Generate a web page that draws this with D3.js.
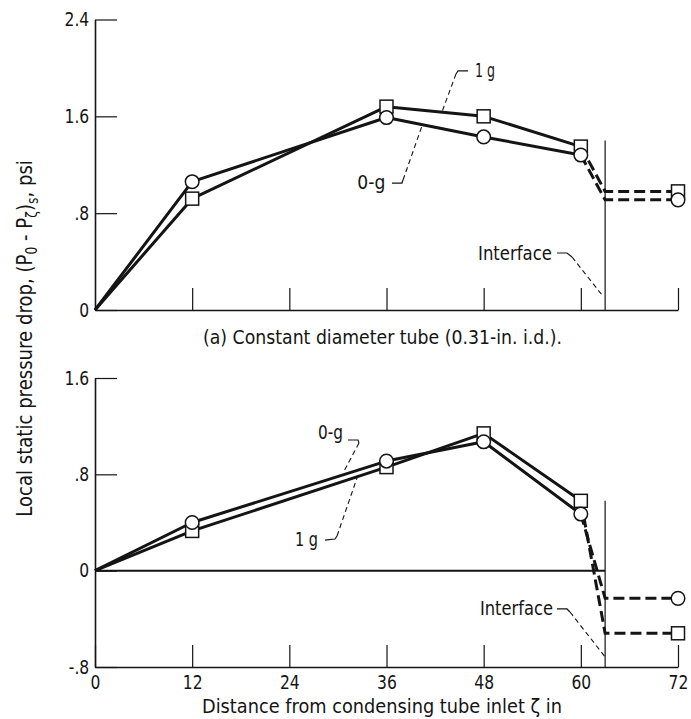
<!DOCTYPE html>
<html><head><meta charset="utf-8">
<script src="https://cdn.jsdelivr.net/npm/d3@7"></script>
<style>body{margin:0;background:#fff}svg{display:block}</style>
</head><body><svg id="c" width="691" height="719"></svg>
<script>
// ---------- data ----------
const stations = [0, 12, 36, 48, 60];
const dashStations = [60, 63, 72];
const topZeroG = [0, 1.06, 1.59, 1.43, 1.28];
const topOneG = [0, 0.92, 1.68, 1.60, 1.35];
const topZeroGDash = [1.28, 0.91, 0.91];
const topOneGDash = [1.35, 0.98, 0.98];
const botZeroG = [0, 0.40, 0.91, 1.07, 0.47];
const botOneG = [0, 0.33, 0.86, 1.14, 0.58];
const botZeroGDash = [0.47, -0.23, -0.23];
const botOneGDash = [0.58, -0.52, -0.52];
const interfaceX = 63;
const topInterfaceTop = 1.40;
const botInterfaceTop = 0.58;
const xTicks = [0, 12, 24, 36, 48, 60, 72];
const xTickLabels = ["0", "12", "24", "36", "48", "60", "72"];
const yTicksTop = [0, 0.8, 1.6, 2.4];
const yTickLabelsTop = ["0", ".8", "1.6", "2.4"];
const yTicksBot = [-0.8, 0, 0.8, 1.6];
const yTickLabelsBot = ["-.8", "0", ".8", "1.6"];

// ---------- setup ----------
const FONT = "'DejaVu Sans', 'Liberation Sans', sans-serif";
const INK = "#141414";
const svg = d3.select("#c");
svg.append("rect").attr("width", 691).attr("height", 719).attr("fill", "#fff");

const x = d3.scaleLinear().domain([0, 72]).range([95, 678]);
const yTop = d3.scaleLinear().domain([0, 2.4]).range([310, 19.5]);
const yBot = d3.scaleLinear().domain([-0.8, 1.6]).range([667, 378]);

function fitText(t, w) {
  t.attr("textLength", w).attr("lengthAdjust", "spacingAndGlyphs");
}

function panel(y, yTicks, yLabels, showXLabels, zg, og, zgD, ogD, ifTop, notes) {
  const g = svg.append("g");
  // x axis
  const xa = d3.axisBottom(x)
    .tickValues(showXLabels ? xTicks : xTicks.slice(1))
    .tickFormat(showXLabels ? (d => xTickLabels[xTicks.indexOf(d)]) : () => "")
    .tickSizeInner(-22).tickSizeOuter(0).tickPadding(9);
  const gx = g.append("g").attr("transform", `translate(0,${y.range()[0]})`).call(xa);
  // y axis
  const ya = d3.axisLeft(y).tickValues(yTicks)
    .tickFormat(d => yLabels[yTicks.indexOf(d)])
    .tickSizeInner(-22).tickSizeOuter(0).tickPadding(7);
  const gy = g.append("g").attr("transform", `translate(${x(0)},0)`).call(ya);
  [gx, gy].forEach(a => {
    a.select(".domain").attr("stroke", INK).attr("stroke-width", 1.6);
    a.selectAll(".tick line").attr("stroke", INK).attr("stroke-width", 1.2);
    a.selectAll(".tick text").attr("fill", INK).attr("font-family", FONT)
      .attr("font-size", 19).attr("transform", "scale(0.82,1)");
  });

  // zero line (bottom panel)
  if (y.domain()[0] < 0) {
    g.append("line").attr("x1", x(0)).attr("x2", x(interfaceX))
      .attr("y1", y(0)).attr("y2", y(0)).attr("stroke", INK).attr("stroke-width", 2);
  }
  // interface line
  g.append("line").attr("x1", x(interfaceX)).attr("x2", x(interfaceX))
    .attr("y1", y(ifTop)).attr("y2", y.range()[0]).attr("stroke", INK).attr("stroke-width", 1.2);

  const line = d3.line().x(d => x(d[0])).y(d => y(d[1]));
  const zip = (xs, ys) => xs.map((v, i) => [v, ys[i]]);
  [zg, og].forEach(s => g.append("path").attr("d", line(zip(stations, s)))
    .attr("fill", "none").attr("stroke", INK).attr("stroke-width", 3).attr("stroke-linejoin", "round"));
  [zgD, ogD].forEach(s => g.append("path").attr("d", line(zip(dashStations, s)))
    .attr("fill", "none").attr("stroke", INK).attr("stroke-width", 3).attr("stroke-dasharray", "11,5"));

  // markers
  const sq = zip(stations.slice(1), og.slice(1)).concat([[dashStations[2], ogD[2]]]);
  const ci = zip(stations.slice(1), zg.slice(1)).concat([[dashStations[2], zgD[2]]]);
  g.selectAll(null).data(sq).enter().append("rect")
    .attr("x", d => x(d[0]) - 6.5).attr("y", d => y(d[1]) - 6.5)
    .attr("width", 13).attr("height", 13)
    .attr("fill", "#fff").attr("stroke", INK).attr("stroke-width", 1.5);
  g.selectAll(null).data(ci).enter().append("circle")
    .attr("cx", d => x(d[0])).attr("cy", d => y(d[1])).attr("r", 6.8)
    .attr("fill", "#fff").attr("stroke", INK).attr("stroke-width", 1.5);

  // annotations
  notes.forEach(n => {
    const t = g.append("text").attr("x", x(n.tx)).attr("y", y(n.ty))
      .attr("text-anchor", "end").attr("font-family", FONT).attr("font-size", 20)
      .attr("fill", INK).text(n.text);
    fitText(t, n.w);
    const p = n.pts.map(d => [x(d[0]), y(d[1])]);
    g.append("path").attr("d", d3.line()(p.slice(0, 3)))
      .attr("fill", "none").attr("stroke", INK).attr("stroke-width", 1.2);
    g.append("path").attr("d", d3.line()(p.slice(2)))
      .attr("fill", "none").attr("stroke", INK).attr("stroke-width", 1.1).attr("stroke-dasharray", "5,3.5");
  });
  return g;
}

panel(yTop, yTicksTop, yTickLabelsTop, false, topZeroG, topOneG, topZeroGDash, topOneGDash, topInterfaceTop, [
  { text: "1 g", tx: 49.4, ty: 1.925, w: 20, pts: [[46.07, 1.975], [44.83, 1.975], [44.58, 1.95], [42.85, 1.636]] },
  { text: "0-g", tx: 35.86, ty: 1.0, w: 28, pts: [[36.68, 1.049], [37.91, 1.049], [38.04, 1.074], [40.38, 1.52]] },
  { text: "Interface", tx: 56.44, ty: 0.413, w: 74, pts: [[57.06, 0.471], [58.29, 0.471], [58.91, 0.438], [62.62, 0.124]] }
]);
panel(yBot, yTicksBot, yTickLabelsBot, true, botZeroG, botOneG, botZeroGDash, botOneGDash, botInterfaceTop, [
  { text: "0-g", tx: 30.63, ty: 1.093, w: 25, pts: [[31.25, 1.085], [32.48, 1.085], [32.6, 1.06], [30.63, 0.811]] },
  { text: "1 g", tx: 27.54, ty: 0.205, w: 23, pts: [[28.4, 0.254], [29.64, 0.263], [29.89, 0.288], [32.48, 0.794]] },
  { text: "Interface", tx: 56.56, ty: -0.368, w: 73, pts: [[57.06, -0.318], [58.29, -0.318], [58.66, -0.343], [62.99, -0.716]] }
]);

// caption & titles
const cap = svg.append("text").attr("x", 382.5).attr("y", 344).attr("text-anchor", "middle")
  .attr("font-family", FONT).attr("font-size", 20).attr("fill", INK)
  .text("(a) Constant diameter tube (0.31-in. i.d.).");
fitText(cap, 359);
const xt = svg.append("text").attr("x", 382).attr("y", 713).attr("text-anchor", "middle")
  .attr("font-family", FONT).attr("font-size", 20).attr("fill", INK)
  .text("Distance from condensing tube inlet  ζ  in");
fitText(xt, 360);

const yt = svg.append("text").attr("text-anchor", "middle")
  .attr("font-family", FONT).attr("font-size", 22).attr("fill", INK);
yt.append("tspan").text("Local static pressure drop, (P");
yt.append("tspan").attr("dy", 5).attr("font-size", 15).text("0");
yt.append("tspan").attr("dy", -5).text(" - P");
yt.append("tspan").attr("dy", 5).attr("font-size", 15).text("ζ");
yt.append("tspan").attr("dy", -5).text(")");
yt.append("tspan").attr("dy", 6).attr("font-size", 15).text("s");
yt.append("tspan").attr("dy", -6).text(", psi");
const yw = yt.node().getComputedTextLength();
yt.attr("transform", `translate(32,338.5) rotate(-90) scale(${357 / yw},1)`);
</script></body></html>
